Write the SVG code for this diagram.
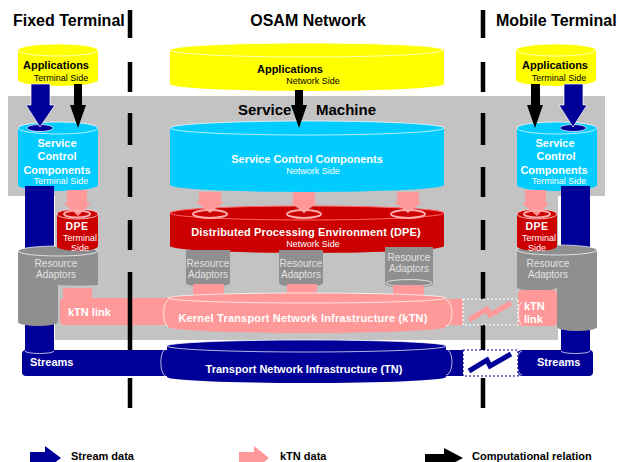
<svg xmlns="http://www.w3.org/2000/svg" width="619" height="462" viewBox="0 0 619 462">
<style>
text{font-family:"Liberation Sans",Arial,sans-serif}
.h{font-size:16px;font-weight:bold;fill:#000}
.sm{font-size:15px;font-weight:bold;fill:#000}
.b{font-size:11px;font-weight:bold}
.s{font-size:9px}
.w{fill:#fff}
.k{fill:#000}
.ra{font-size:10px;fill:#e2e2e2}
.yel{fill:#ffff00}
.cy{fill:#00ccff}
.red{fill:#cc0000}
.gry{fill:#8f8f8f}
.pk{fill:#ff9999}
.bl{fill:#000099}
.rim{stroke:#ffffff;stroke-width:1;stroke-opacity:0.7}
.dash{stroke:#000;stroke-width:4.5}
</style>
<rect width="619" height="462" fill="#fff"/>
<!-- Service machine background -->
<path id="service-machine-bg" d="M8,96 H605 V196 H558 V340 H55 V196 H8 Z" fill="#c3c3c3"/>
<text class="sm" x="238" y="115"><tspan x="238">Service</tspan><tspan x="316">Machine</tspan></text>

<!-- headers -->
<text class="h" x="13" y="26">Fixed Terminal</text>
<text class="h" x="308" y="26" text-anchor="middle">OSAM Network</text>
<text class="h" x="496" y="26">Mobile Terminal</text>

<!-- Applications -->
<g id="app-fixed">
<path class="yel" d="M18,50 V80 A40,6 0 0 0 98,80 V50 Z"/>
<ellipse class="yel rim" cx="58" cy="50" rx="40" ry="6"/>
<text class="b k" x="56" y="69" text-anchor="middle">Applications</text>
<text class="s k" x="61" y="81" text-anchor="middle">Terminal Side</text>
</g>
<g id="app-network">
<path class="yel" d="M170,50 V84 A137,7 0 0 0 444,84 V50 Z"/>
<ellipse class="yel rim" cx="307" cy="50" rx="137" ry="7"/>
<text class="b k" x="290" y="73" text-anchor="middle">Applications</text>
<text class="s k" x="313" y="84" text-anchor="middle">Network Side</text>
</g>
<g id="app-mobile">
<path class="yel" d="M516,50 V80 A40,6 0 0 0 596,80 V50 Z"/>
<ellipse class="yel rim" cx="556" cy="50" rx="40" ry="6"/>
<text class="b k" x="555" y="69" text-anchor="middle">Applications</text>
<text class="s k" x="559" y="81" text-anchor="middle">Terminal Side</text>
</g>

<!-- Service Control Components -->
<g id="scc-fixed">
<path class="cy" d="M18,128 V185 A40,6 0 0 0 98,185 V128 Z"/>
<ellipse class="cy rim" cx="58" cy="128" rx="40" ry="6"/>
<ellipse class="bl rim" cx="40" cy="128" rx="13" ry="3.5"/>
<text class="b w" x="57" y="147" text-anchor="middle">Service</text>
<text class="b w" x="57" y="160" text-anchor="middle">Control</text>
<text class="b w" x="57" y="174" text-anchor="middle">Components</text>
<text class="s w" x="61" y="184" text-anchor="middle">Terminal Side</text>
</g>
<g id="scc-network">
<path class="cy" d="M170,128 V185 A137,7 0 0 0 444,185 V128 Z"/>
<ellipse class="cy rim" cx="307" cy="128" rx="137" ry="7"/>
<text class="b w" x="307" y="163" text-anchor="middle">Service Control Components</text>
<text class="s w" x="313" y="174" text-anchor="middle">Network Side</text>
</g>
<g id="scc-mobile">
<path class="cy" d="M517,128 V185 A40,6 0 0 0 597,185 V128 Z"/>
<ellipse class="cy rim" cx="557" cy="128" rx="40" ry="6"/>
<ellipse class="bl rim" cx="573" cy="128" rx="13" ry="3.5"/>
<text class="b w" x="555" y="147" text-anchor="middle">Service</text>
<text class="b w" x="556" y="160" text-anchor="middle">Control</text>
<text class="b w" x="554" y="174" text-anchor="middle">Components</text>
<text class="s w" x="559" y="184" text-anchor="middle">Terminal Side</text>
</g>

<!-- stream columns -->
<g id="stream-columns">
<rect class="bl" x="25" y="186" width="29" height="66"/>
<rect class="bl" x="25" y="318" width="29" height="36"/>
<rect class="bl" x="561" y="186" width="29" height="66"/>
<rect class="bl" x="561" y="324" width="29" height="30"/>
</g>

<!-- Resource adaptors terminal -->
<g id="ra-fixed">
<path class="gry" d="M18,251 V322 A20,4 0 0 0 58,322 V285 A40,4 0 0 0 98,285 V251 Z"/>
<ellipse class="gry rim" cx="58" cy="251" rx="40" ry="5"/>
<text class="ra" x="56" y="267" text-anchor="middle">Resource</text>
<text class="ra" x="56" y="278" text-anchor="middle">Adaptors</text>
</g>
<g id="ra-mobile">
<path class="gry" d="M517,250 V287 A20,4 0 0 0 557,287 V327 A20,4 0 0 0 597,327 V250 Z"/>
<ellipse class="gry rim" cx="557" cy="250" rx="40" ry="5"/>
<text class="ra" x="548" y="267" text-anchor="middle">Resource</text>
<text class="ra" x="548" y="278" text-anchor="middle">Adaptors</text>
</g>

<!-- DPE -->
<g id="dpe-fixed">
<path class="red" d="M57,214 V246 A20.5,5 0 0 0 98,246 V214 Z"/>
<ellipse class="red rim" cx="77.5" cy="214" rx="20.5" ry="5"/>
<text class="w" x="77" y="230" text-anchor="middle" font-size="10.5" font-weight="bold" letter-spacing="0.5">DPE</text>
<text class="s w" x="80" y="241" text-anchor="middle">Terminal</text>
<text class="s w" x="80" y="251" text-anchor="middle">Side</text>
</g>
<g id="dpe-mobile">
<path class="red" d="M517,214 V246 A20,5 0 0 0 557,246 V214 Z"/>
<ellipse class="red rim" cx="537" cy="214" rx="20" ry="5"/>
<text class="w" x="537" y="230" text-anchor="middle" font-size="10.5" font-weight="bold" letter-spacing="0.5">DPE</text>
<text class="s w" x="539" y="241" text-anchor="middle">Terminal</text>
<text class="s w" x="537" y="251" text-anchor="middle">Side</text>
</g>
<g id="dpe-network">
<path class="red" d="M170,213 V246 A137,7 0 0 0 444,246 V213 Z"/>
<ellipse class="red" cx="307" cy="213" rx="137" ry="7" stroke="#ff6666" stroke-width="1"/>
<text class="b w" x="306" y="236" text-anchor="middle" letter-spacing="0.15">Distributed Processing Environment (DPE)</text>
<text class="s w" x="313" y="247" text-anchor="middle">Network Side</text>
</g>

<!-- network resource adaptors -->
<g id="ra-network-1">
<path class="gry" d="M186,250 V283 A22,4 0 0 0 230,283 V250 Z"/>
<text class="ra" x="208" y="267" text-anchor="middle">Resource</text>
<text class="ra" x="208" y="278" text-anchor="middle">Adaptors</text>
</g>
<g id="ra-network-2">
<path class="gry" d="M279,250 V283 A22,4 0 0 0 323,283 V250 Z"/>
<text class="ra" x="301" y="267" text-anchor="middle">Resource</text>
<text class="ra" x="301" y="278" text-anchor="middle">Adaptors</text>
</g>
<g id="ra-network-3">
<path class="gry" d="M385,247 V284 A24,4 0 0 0 433,284 V247 Z"/>
<ellipse cx="409" cy="283" rx="23" ry="3.5" fill="none" class="rim"/>
<text class="ra" x="409" y="261" text-anchor="middle">Resource</text>
<text class="ra" x="409" y="272" text-anchor="middle">Adaptors</text>
</g>

<!-- kTN -->
<g id="ktn">
<rect class="pk" x="193" y="284" width="31" height="16"/>
<rect class="pk" x="287" y="284" width="30" height="16"/>
<rect class="pk" x="393" y="285" width="31" height="15"/>
<rect class="pk" x="63" y="288" width="29" height="12"/>
<rect class="pk" x="60" y="298" width="115" height="27" rx="4"/>
<rect class="pk" x="440" y="299" width="23" height="26"/>
<path class="pk" d="M168,298 V327 A139,6 0 0 0 446,327 V298 Z"/>
<ellipse class="pk rim" cx="307" cy="298" rx="139" ry="5"/>
<path d="M168,300 A6,14 0 0 0 168,327 M446,300 A6,13 0 0 1 446,326" fill="none" class="rim"/>
<text class="b w" x="303" y="322" text-anchor="middle" letter-spacing="0.2">Kernel Transport Network Infrastructure (kTN)</text>
<text class="b w" x="68" y="316">kTN link</text>
</g>
<g id="ktn-link-mobile">
<rect class="pk" x="518" y="290" width="39" height="36" rx="4"/>
<path d="M522,302 A5,12 0 0 0 522,325" fill="none" class="rim"/>
<text class="b w" x="524" y="310">kTN</text>
<text class="b w" x="524" y="323">link</text>
</g>

<!-- dashed separators -->
<g id="separators">
<path class="dash" d="M130,10 V38 M130,62 V92 M130,113 V145 M130,167 V197 M130,220 V250 M130,272 V350 M130,378 V408"/>
<path class="dash" d="M483,10 V38 M483,62 V92 M483,113 V145 M483,167 V197 M483,220 V250 M483,272 V302 M483,325 V353 M483,378 V408"/>
</g>

<!-- TN -->
<g id="tn">
<rect class="bl" x="22" y="350" width="150" height="26" rx="4"/>
<path d="M25,351 A14.5,2.5 0 0 0 54,351" fill="none" class="rim"/>
<text class="b w" x="30" y="366">Streams</text>
<rect class="bl" x="440" y="350" width="23" height="26"/>
<path class="bl" d="M167,346 V377 A139.5,6 0 0 0 446,377 V346 Z"/>
<ellipse class="bl rim" cx="306.5" cy="346" rx="139.5" ry="6"/>
<path d="M167,348 A6,14 0 0 0 167,377 M446,349 A6,13 0 0 1 446,375" fill="none" class="rim"/>
<text class="b w" x="304" y="373" text-anchor="middle">Transport Network Infrastructure (TN)</text>
</g>
<g id="streams-mobile">
<rect class="bl" x="518" y="350" width="75" height="26" rx="4"/>
<path d="M522,351 A5,12 0 0 0 522,375 M561,351 A14.5,2.5 0 0 0 590,351" fill="none" class="rim"/>
<text class="b w" x="537" y="366">Streams</text>
</g>

<!-- wireless links -->
<g id="wireless">
<rect x="463" y="299" width="55" height="26" fill="#c3c3c3" stroke="#ffffff" stroke-width="1.2" stroke-dasharray="2,2"/>
<polyline points="469,320 487,309 490,315 511,303" fill="none" stroke="#ff9999" stroke-width="5"/>
<rect x="463" y="350" width="55" height="26" fill="#ffffff" stroke="#000099" stroke-width="1.2" stroke-dasharray="2,2"/>
<polyline points="469,371 487,360 490,366 511,354" fill="none" stroke="#000099" stroke-width="5"/>
</g>

<!-- connectors -->
<g id="connectors">
<polygon class="bl rim" points="31,84 50,84 50,105 55,105 40,127 26,105 31,105"/>
<polygon class="k" points="74,84 82,84 82,105 86,105 78,128 70,105 74,105"/>
<polygon class="k" points="295,90 303,90 303,105 307,105 299,128 291,105 295,105"/>
<polygon class="k" points="531,84 540,84 540,105 543,105 535,128 527,105 531,105"/>
<polygon class="bl rim" points="564,84 583,84 583,105 587,105 573,127 559,105 564,105"/>
<polygon class="pk" points="67,190 87,190 87,203 91,203 78,216 64,203 67,203"/>
<polygon class="pk" points="525,190 546,190 546,203 549,203 537,216 522,203 525,203"/>
<polygon class="pk" points="199,192 221,192 221,202 224,202 210,213 196,202 199,202"/>
<polygon class="pk" points="293,192 315,192 315,202 318,202 304,213 290,202 293,202"/>
<polygon class="pk" points="397,192 419,192 419,202 422,202 408,213 394,202 397,202"/>
<g fill="none" stroke="#ffaaaa" stroke-width="2">
<ellipse cx="77" cy="214" rx="13" ry="3.5"/>
<ellipse cx="537" cy="214" rx="13" ry="3.5"/>
<ellipse cx="210" cy="214" rx="17" ry="4"/>
<ellipse cx="304" cy="214" rx="17" ry="4"/>
<ellipse cx="408" cy="214" rx="17" ry="4"/>
</g>
</g>

<!-- legend -->
<g id="legend">
<polygon class="bl" points="30,452 45,452 45,446 61,458 45,470 45,464 30,464"/>
<text class="b k" x="71" y="460">Stream data</text>
<polygon class="pk" points="239,452 254,452 254,446 269,458 254,470 254,464 239,464"/>
<text class="b k" x="280" y="460">kTN data</text>
<polygon class="k" points="425,454 444,454 444,448 463,458 444,468 444,462 425,462"/>
<text class="b k" x="472" y="460">Computational relation</text>
</g>
</svg>
